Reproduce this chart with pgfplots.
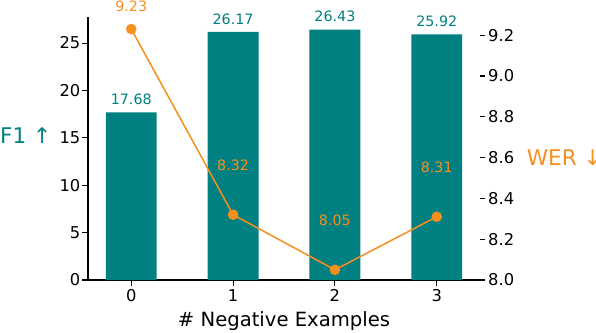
\documentclass[border=0pt]{standalone}
\usepackage{pgfplots}
\pgfplotsset{compat=1.18}
\usepackage{fontspec}
\setmainfont{DejaVu Sans}
\definecolor{barteal}{RGB}{0,128,128}
\definecolor{werorange}{RGB}{245,143,30}
\newcommand{\tickfont}{\fontsize{16.3}{19.6}\selectfont}
\newcommand{\valfont}{\fontsize{14.3}{17}\selectfont}
\newcommand{\labfont}{\fontsize{19.6}{23.5}\selectfont}
\newcommand{\ylabfont}{\fontsize{21.6}{26}\selectfont}
\begin{document}
\begin{tikzpicture}
\begin{axis}[
  scale only axis, width=392pt, height=263pt,
  xmin=-0.425, xmax=3.425, ymin=0, ymax=27.75,
  axis x line*=bottom, axis y line*=left,
  axis line style={line width=1.1pt, black},
  tick style={line width=1.1pt, black},
  tick align=outside, major tick length=6pt,
  xtick={0,1,2,3}, ytick={0,5,10,15,20,25},
  /pgf/number format/assume math mode=true,
  tick label style={font=\tickfont},
  yticklabel style={inner sep=1.5pt},
  xlabel={\# Negative Examples},
  xlabel style={font=\labfont, at={(axis description cs:0.5,-0.1776)}, anchor=base, inner sep=0pt},
  ylabel={F1 ↑},
  every axis y label/.style={at={(axis description cs:-0.2245,0.52)}, anchor=base west, inner sep=0pt, font=\ylabfont, text=barteal},
  clip=false,
]
\addplot[ybar, bar width=0.5, fill=barteal, draw=none, nodes near coords, nodes near coords style={font=\valfont, text=barteal, anchor=base, inner sep=0pt, yshift=7.8pt}, point meta=explicit symbolic] coordinates {(0,17.68)[17.68] (1,26.17)[26.17] (2,26.43)[26.43] (3,25.92)[25.92]};
\end{axis}
\begin{axis}[
  scale only axis, width=392pt, height=263pt,
  xmin=-0.425, xmax=3.425, ymin=8, ymax=9.289,
  axis x line=none, axis y line*=right,
  y axis line style={draw=none},
  tick style={line width=1.1pt, black},
  tick align=outside, major tick length=5pt,
  ytick={8,8.2,8.4,8.6,8.8,9.0,9.2},
  /pgf/number format/assume math mode=true,
  yticklabel style={font=\tickfont, inner sep=3pt, /pgf/number format/fixed, /pgf/number format/fixed zerofill, /pgf/number format/precision=1},
  ylabel={WER ↓},
  every axis y label/.style={at={(axis description cs:1.119,0.4346)}, anchor=base west, inner sep=0pt, font=\ylabfont, text=werorange},
  clip=false,
]
\addplot[werorange, line width=1.5pt, mark=*, mark size=4.5pt, mark options={fill=werorange, draw=none}] coordinates {(0,9.23) (1,8.32) (2,8.05) (3,8.31)};
\addplot[draw=none, mark=none, nodes near coords, point meta=explicit symbolic, nodes near coords style={font=\valfont, text=werorange, anchor=base, inner sep=0pt}] coordinates {(0,9.3177)[9.23] (1,8.5384)[8.32] (2,8.2684)[8.05] (3,8.5284)[8.31]};
\end{axis}
\pgfresetboundingbox
\useasboundingbox (-88pt,-52pt) rectangle (508pt,280pt);
\end{tikzpicture}
\end{document}
